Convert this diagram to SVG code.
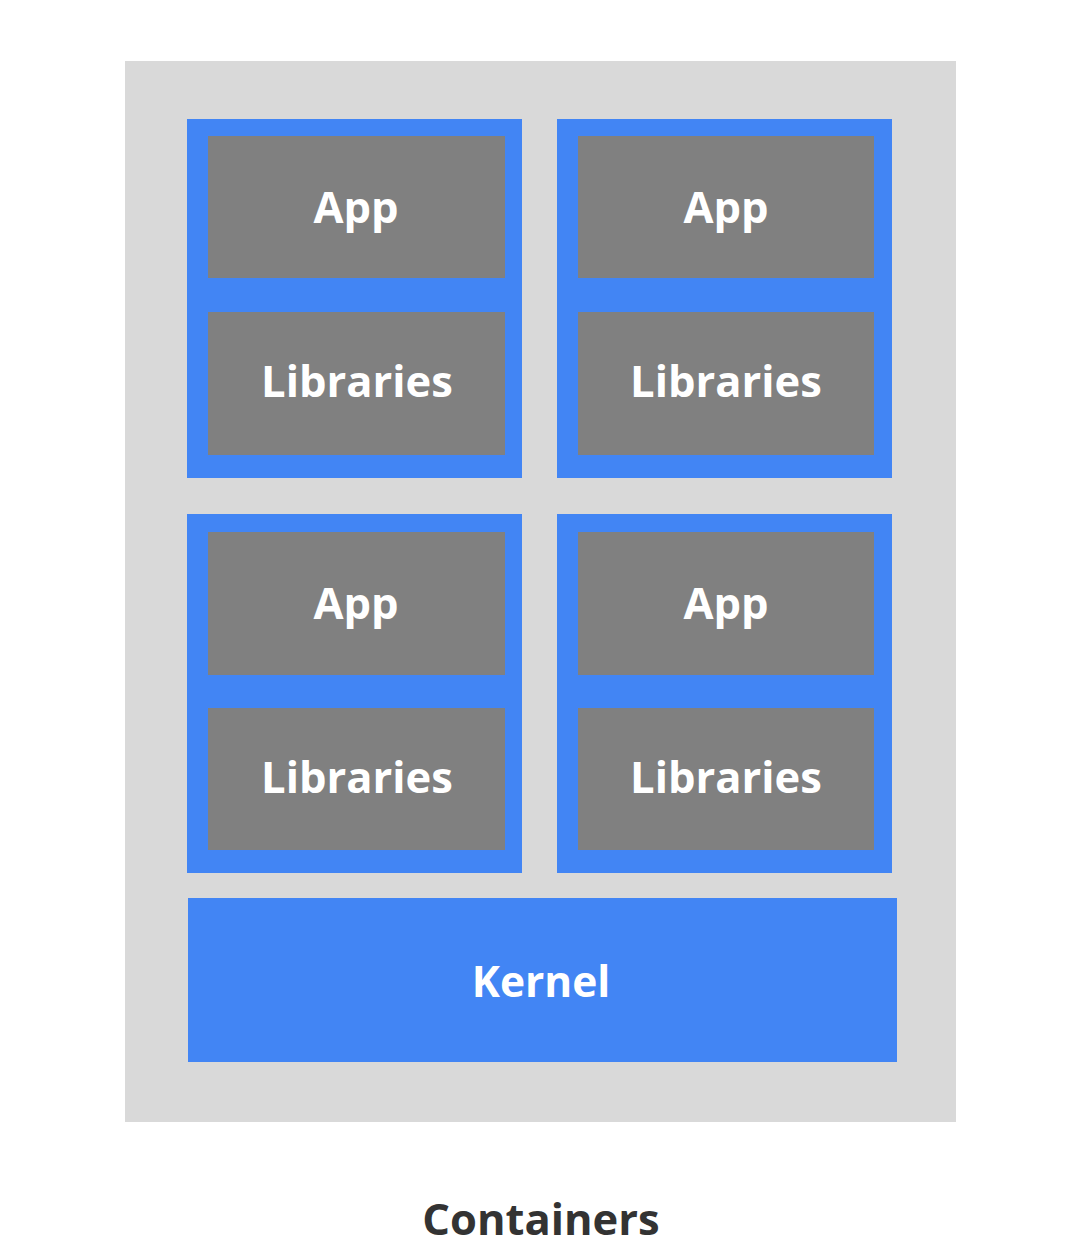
<svg xmlns="http://www.w3.org/2000/svg" width="1080" height="1257" viewBox="0 0 1080 1257">
<style>
.bg{fill:#d9d9d9}
.ctr{fill:#4285f4}
.box{fill:#808080}
.lbl{font-family:"Open Sans","Liberation Sans",sans-serif;font-weight:700;font-size:43.5px;fill:#ffffff;text-anchor:middle}
.kern{font-size:42.5px}
.cap{font-family:"Open Sans","Liberation Sans",sans-serif;font-weight:700;font-size:43.5px;fill:#333333;text-anchor:middle}
</style>
<rect width="1080" height="1257" fill="#ffffff"/>
<rect class="bg" x="125" y="61" width="831" height="1061"/>
<g id="container-1">
<rect class="ctr" x="187" y="119" width="335" height="359"/>
<rect class="box" x="208" y="136" width="297" height="142"/>
<text class="lbl" x="356" y="223">App</text>
<rect class="box" x="208" y="312" width="297" height="143"/>
<text class="lbl" x="357" y="397">Libraries</text>
</g>
<g id="container-2">
<rect class="ctr" x="557" y="119" width="335" height="359"/>
<rect class="box" x="578" y="136" width="296" height="142"/>
<text class="lbl" x="726" y="223">App</text>
<rect class="box" x="578" y="312" width="296" height="143"/>
<text class="lbl" x="726" y="397">Libraries</text>
</g>
<g id="container-3">
<rect class="ctr" x="187" y="514" width="335" height="359"/>
<rect class="box" x="208" y="532" width="297" height="143"/>
<text class="lbl" x="356" y="619">App</text>
<rect class="box" x="208" y="708" width="297" height="142"/>
<text class="lbl" x="357" y="793">Libraries</text>
</g>
<g id="container-4">
<rect class="ctr" x="557" y="514" width="335" height="359"/>
<rect class="box" x="578" y="532" width="296" height="143"/>
<text class="lbl" x="726" y="619">App</text>
<rect class="box" x="578" y="708" width="296" height="142"/>
<text class="lbl" x="726" y="793">Libraries</text>
</g>
<g id="kernel">
<rect class="ctr" x="188" y="898" width="709" height="164"/>
<text class="lbl kern" x="541" y="997">Kernel</text>
</g>
<g id="caption">
<text class="cap" x="541" y="1235">Containers</text>
</g>
<g id="connectors"></g>
</svg>
